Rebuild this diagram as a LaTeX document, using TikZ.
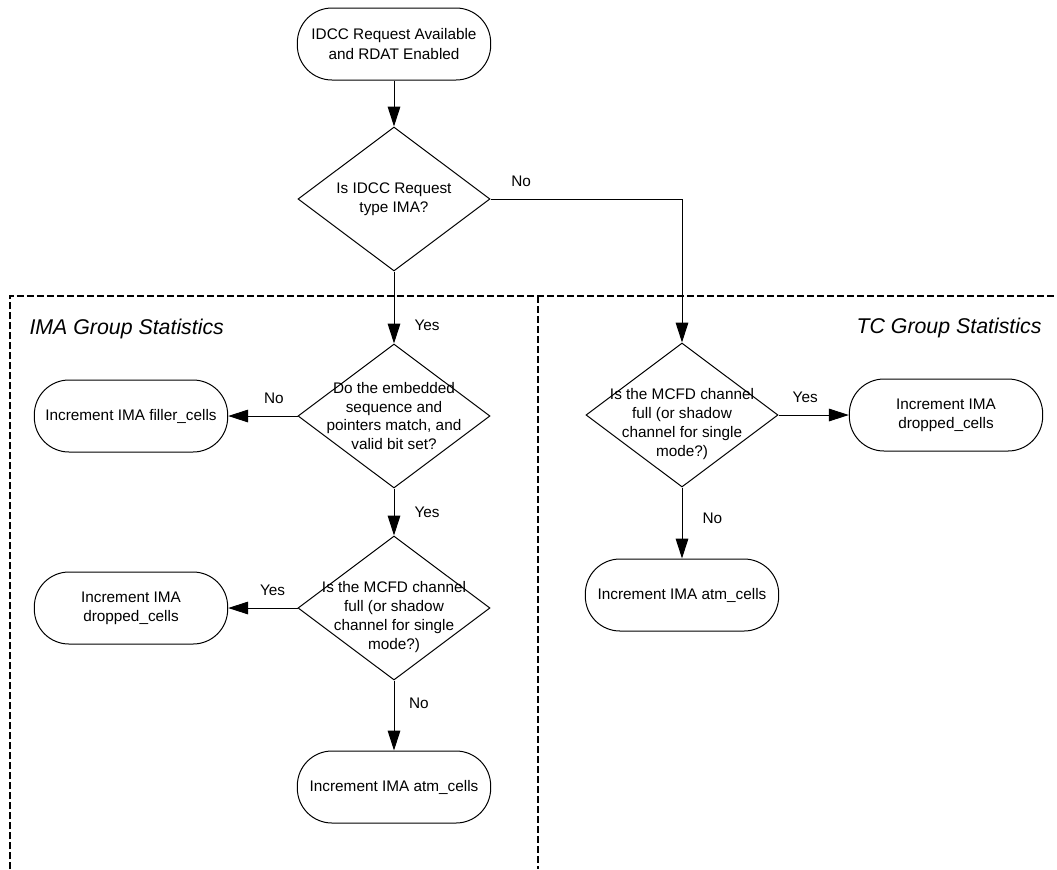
\documentclass[tikz,border=0pt]{standalone}
\usepackage{fontspec}
\setmainfont{Liberation Sans}
\usetikzlibrary{shapes.geometric,arrows.meta}
\tikzstyle{terminal}=[draw,rectangle,rounded corners=26pt,minimum width=145pt,minimum height=54pt,inner sep=0pt,align=center,font=\fontsize{11.5}{14.4}\selectfont]
\tikzstyle{decision}=[draw,diamond,minimum width=144pt,minimum height=108pt,inner sep=0pt]
\tikzstyle{question}=[align=center,inner sep=0pt,font=\fontsize{11.5}{14.2}\selectfont]
\tikzstyle{flow}=[draw,-{Triangle[length=15pt,width=9.5pt]}]
\tikzstyle{answer}=[inner sep=2pt,font=\fontsize{11.5}{14}\selectfont]
\tikzstyle{group}=[draw,line width=1.2pt,dash pattern=on 5pt off 2.5pt]
\tikzstyle{grouptitle}=[inner sep=0pt,font=\fontsize{16}{19}\selectfont\itshape]

\begin{document}
\begin{tikzpicture}[x=0.75pt,y=-0.75pt,line width=0.75pt]
\useasboundingbox (0,0) rectangle (1057,869);

% group boundaries
\draw[group] (10,869) -- (10,296) -- (1057,296);
\draw[group] (538,296) -- (538,869);
\node[grouptitle,anchor=base west] (imatitle) at (29,334) {IMA Group Statistics};
\node[grouptitle,anchor=base east] (tctitle) at (1042,333) {TC Group Statistics};

% request check
\node[terminal] (start) at (394,44) {IDCC Request Available\\and RDAT Enabled};
\node[decision] (q1) at (394,199) {};
\node[question] (q1txt) at (q1) {Is IDCC Request\\type IMA?};

% IMA side
\node[decision] (imaq1) at (394,416) {};
\node[question] (imaq1txt) at (imaq1) {Do the embedded\\sequence and\\pointers match, and\\valid bit set?};
\node[terminal] (imafill) at (131,416) {Increment IMA filler\_cells};
\node[decision] (imaq2) at (394,608) {};
\node[question,yshift=-7pt] (imaq2txt) at (imaq2) {Is the MCFD channel\\full (or shadow\\channel for single\\mode?)};
\node[terminal] (imadrop) at (131,608) {Increment IMA\\dropped\_cells};
\node[terminal] (imaatm) at (394,787) {Increment IMA atm\_cells};

% TC side
\node[decision] (tcq) at (682,415) {};
\node[question,yshift=-7pt] (tcqtxt) at (tcq) {Is the MCFD channel\\full (or shadow\\channel for single\\mode?)};
\node[terminal] (tcdrop) at (946,415) {Increment IMA\\dropped\_cells};
\node[terminal] (tcatm) at (682,595) {Increment IMA atm\_cells};

\draw[flow] (start) -- (q1);
\draw[flow] (q1.east) -| node[answer,pos=.08,above=7pt] {No} (tcq.north);
\draw[flow] (q1.south) -- node[answer,pos=.75,right=13pt] {Yes} (imaq1.north);
\draw[flow] (imaq1.west) -- node[answer,pos=.34,above=7pt] {No} (imafill.east);
\draw[flow] (imaq1.south) -- node[answer,pos=.5,right=13pt] {Yes} (imaq2.north);
\draw[flow] (imaq2.west) -- node[answer,pos=.36,above=7pt] {Yes} (imadrop.east);
\draw[flow] (imaq2.south) -- node[answer,pos=.32,right=9pt] {No} (imaatm.north);
\draw[flow] (tcq.east) -- node[answer,pos=.38,above=7pt] {Yes} (tcdrop.west);
\draw[flow] (tcq.south) -- node[answer,pos=.44,right=13pt] {No} (tcatm.north);
\end{tikzpicture}
\end{document}
